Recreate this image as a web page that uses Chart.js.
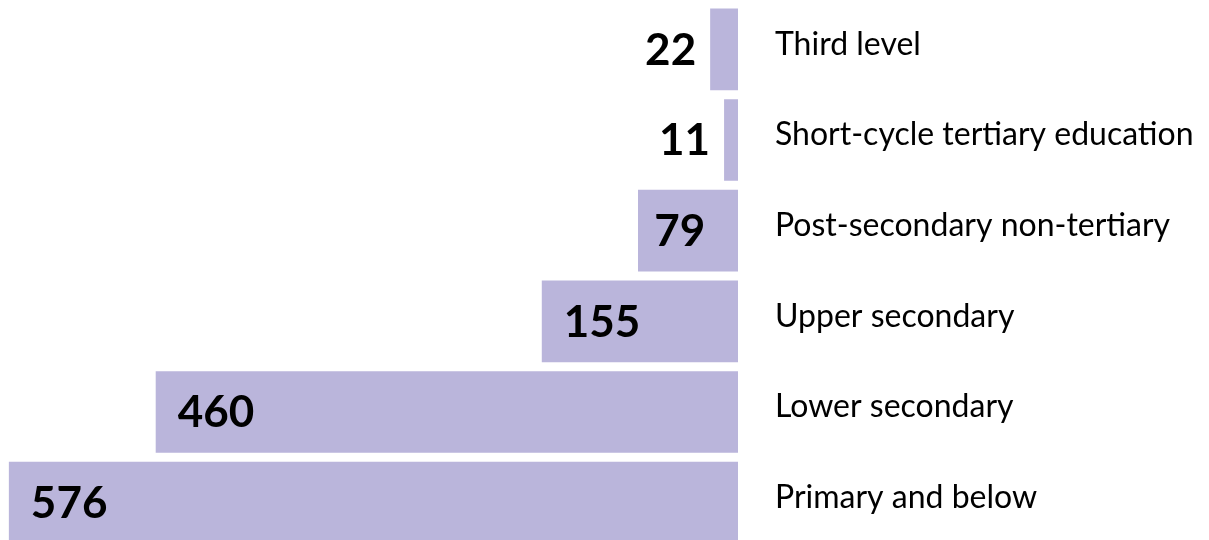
<!DOCTYPE html>
<html>
<head>
<meta charset="utf-8">
<script src="https://cdn.jsdelivr.net/npm/chart.js@4.4.1/dist/chart.umd.min.js"></script>
<style>
  html, body { margin: 0; padding: 0; background: #fff; overflow: hidden; }
  #wrap { position: relative; width: 1209px; height: 548px; }
</style>
</head>
<body>
<div id="wrap"><canvas id="chart"></canvas></div>
<script>
/* ── Data ── */
const levels = [
  'Third level',
  'Short-cycle tertiary education',
  'Post-secondary non-tertiary',
  'Upper secondary',
  'Lower secondary',
  'Primary and below'
];
const counts  = [22, 11, 79, 155, 460, 576];
const axisMax = 583;

const BAR_COLOR = '#bab5db';
const TEXT_COLOR = '#000';

/* ── Value labels: inside the bar when it fits, else to its left ── */
const valueLabels = {
  id: 'valueLabels',
  afterDatasetsDraw(chart) {
    const ctx = chart.ctx;
    const meta = chart.getDatasetMeta(0);
    ctx.save();
    ctx.font = 'bold 44px Lato, sans-serif';
    ctx.fillStyle = TEXT_COLOR;
    ctx.textBaseline = 'middle';
    meta.data.forEach((bar, i) => {
      const txt = String(counts[i]);
      const w = ctx.measureText(txt).width;
      const left = Math.min(bar.x, bar.base);
      const barW = Math.abs(bar.base - bar.x);
      if (barW >= w + 30) {
        const pad = Math.min(22, (barW - w) / 3);
        ctx.textAlign = 'left';
        ctx.fillText(txt, left + pad, bar.y + 1);
      } else {
        ctx.textAlign = 'right';
        ctx.fillText(txt, left - 14, bar.y + 1);
      }
    });
    ctx.restore();
  }
};

new Chart(document.getElementById('chart').getContext('2d'), {
  type: 'bar',
  data: {
    labels: levels,
    datasets: [{
      data: counts,
      backgroundColor: BAR_COLOR,
      borderWidth: 0,
      categoryPercentage: 1,
      barPercentage: 0.9
    }]
  },
  options: {
    indexAxis: 'y',
    responsive: true,
    maintainAspectRatio: false,
    animation: false,
    layout: { padding: { top: 4, left: 0, right: 0, bottom: 0 } },
    plugins: {
      legend: { display: false },
      tooltip: { enabled: false }
    },
    scales: {
      x: {
        display: false,
        reverse: true,
        min: 0,
        max: axisMax
      },
      y: {
        position: 'right',
        grid: { display: false, drawTicks: false },
        border: { display: false },
        ticks: {
          padding: 37,
          labelOffset: -5,
          color: TEXT_COLOR,
          font: { family: 'Lato, sans-serif', size: 32 }
        },
        afterFit: scale => {
          // fixed label column, and no extra top/bottom room for the tick text
          scale.width = 1209 - 738;
          scale.paddingTop = 0;
          scale.paddingBottom = 0;
        }
      }
    }
  },
  plugins: [valueLabels]
});
</script>
</body>
</html>
